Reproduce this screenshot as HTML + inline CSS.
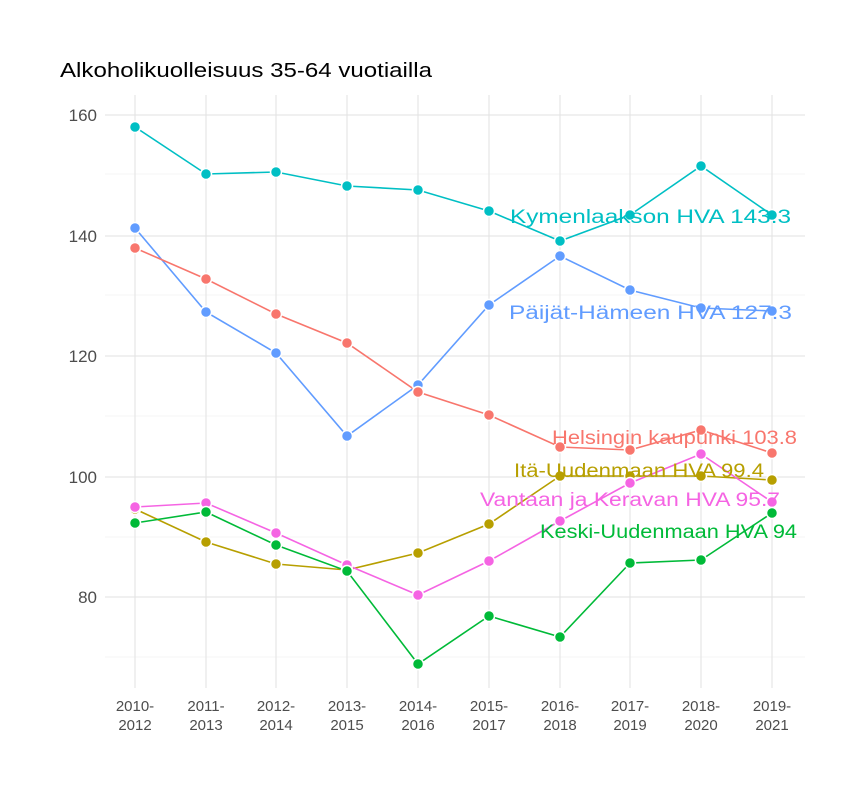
<!DOCTYPE html>
<html><head><meta charset="utf-8"><style>
body{margin:0;background:#fff}
svg{display:block;font-family:"Liberation Sans",sans-serif}
</style></head><body>
<svg width="864" height="792" viewBox="0 0 864 792" xmlns="http://www.w3.org/2000/svg">
<rect width="864" height="792" fill="#fff"/>
<text x="60" y="77" font-size="20" fill="#000" textLength="372" lengthAdjust="spacingAndGlyphs">Alkoholikuolleisuus 35-64 vuotiailla</text>
<g stroke="#f0f0f0" stroke-width="0.8">
<line x1="105" x2="805" y1="174" y2="174"/><line x1="105" x2="805" y1="295" y2="295"/>
<line x1="105" x2="805" y1="416" y2="416"/><line x1="105" x2="805" y1="537" y2="537"/>
<line x1="105" x2="805" y1="657" y2="657"/>
</g>
<g stroke="#e2e2e2" stroke-width="1">
<line x1="105" x2="805" y1="115" y2="115"/><line x1="105" x2="805" y1="236" y2="236"/>
<line x1="105" x2="805" y1="356" y2="356"/><line x1="105" x2="805" y1="477" y2="477"/>
<line x1="105" x2="805" y1="597" y2="597"/>
<line x1="135" x2="135" y1="95" y2="688"/><line x1="206" x2="206" y1="95" y2="688"/>
<line x1="276" x2="276" y1="95" y2="688"/><line x1="347" x2="347" y1="95" y2="688"/>
<line x1="418" x2="418" y1="95" y2="688"/><line x1="489" x2="489" y1="95" y2="688"/>
<line x1="560" x2="560" y1="95" y2="688"/><line x1="630" x2="630" y1="95" y2="688"/>
<line x1="701" x2="701" y1="95" y2="688"/><line x1="772" x2="772" y1="95" y2="688"/>
</g>
<g font-size="17" fill="#4d4d4d" text-anchor="end">
<text x="97" y="121">160</text><text x="97" y="242">140</text><text x="97" y="362">120</text>
<text x="97" y="483">100</text><text x="97" y="603">80</text>
</g>
<g font-size="15" fill="#4d4d4d" text-anchor="middle">
<text x="135" y="711">2010-</text><text x="135" y="730">2012</text>
<text x="206" y="711">2011-</text><text x="206" y="730">2013</text>
<text x="276" y="711">2012-</text><text x="276" y="730">2014</text>
<text x="347" y="711">2013-</text><text x="347" y="730">2015</text>
<text x="418" y="711">2014-</text><text x="418" y="730">2016</text>
<text x="489" y="711">2015-</text><text x="489" y="730">2017</text>
<text x="560" y="711">2016-</text><text x="560" y="730">2018</text>
<text x="630" y="711">2017-</text><text x="630" y="730">2019</text>
<text x="701" y="711">2018-</text><text x="701" y="730">2020</text>
<text x="772" y="711">2019-</text><text x="772" y="730">2021</text>
</g>
<g fill="none" stroke-width="1.6">
<polyline stroke="#00BFC4" points="135,127 206,174 276,172 347,186 418,190 489,211 560,241 630,215 701,166 772,215"/>
<polyline stroke="#619CFF" points="135,228 206,312 276,353 347,436 418,385 489,305 560,256 630,290 701,308 772,311"/>
<polyline stroke="#F8766D" points="135,248 206,279 276,314 347,343 418,392 489,415 560,447 630,450 701,430 772,453"/>
<polyline stroke="#B79F00" points="135,509 206,542 276,564 347,570 418,553 489,524 560,476 630,476 701,476 772,480"/>
<polyline stroke="#F564E3" points="135,507 206,503 276,533 347,565 418,595 489,561 560,521 630,483 701,454 772,502"/>
<polyline stroke="#00BA38" points="135,523 206,512 276,545 347,571 418,664 489,616 560,637 630,563 701,560 772,513"/>
</g>
<g stroke="#fff" stroke-width="1.5">
<g fill="#00BFC4"><circle cx="135" cy="127" r="5.5"/><circle cx="206" cy="174" r="5.5"/><circle cx="276" cy="172" r="5.5"/><circle cx="347" cy="186" r="5.5"/><circle cx="418" cy="190" r="5.5"/><circle cx="489" cy="211" r="5.5"/><circle cx="560" cy="241" r="5.5"/><circle cx="630" cy="215" r="5.5"/><circle cx="701" cy="166" r="5.5"/><circle cx="772" cy="215" r="5.5"/></g>
<g fill="#619CFF"><circle cx="135" cy="228" r="5.5"/><circle cx="206" cy="312" r="5.5"/><circle cx="276" cy="353" r="5.5"/><circle cx="347" cy="436" r="5.5"/><circle cx="418" cy="385" r="5.5"/><circle cx="489" cy="305" r="5.5"/><circle cx="560" cy="256" r="5.5"/><circle cx="630" cy="290" r="5.5"/><circle cx="701" cy="308" r="5.5"/><circle cx="772" cy="311" r="5.5"/></g>
<g fill="#F8766D"><circle cx="135" cy="248" r="5.5"/><circle cx="206" cy="279" r="5.5"/><circle cx="276" cy="314" r="5.5"/><circle cx="347" cy="343" r="5.5"/><circle cx="418" cy="392" r="5.5"/><circle cx="489" cy="415" r="5.5"/><circle cx="560" cy="447" r="5.5"/><circle cx="630" cy="450" r="5.5"/><circle cx="701" cy="430" r="5.5"/><circle cx="772" cy="453" r="5.5"/></g>
<g fill="#B79F00"><circle cx="135" cy="509" r="5.5"/><circle cx="206" cy="542" r="5.5"/><circle cx="276" cy="564" r="5.5"/><circle cx="347" cy="570" r="5.5"/><circle cx="418" cy="553" r="5.5"/><circle cx="489" cy="524" r="5.5"/><circle cx="560" cy="476" r="5.5"/><circle cx="630" cy="476" r="5.5"/><circle cx="701" cy="476" r="5.5"/><circle cx="772" cy="480" r="5.5"/></g>
<g fill="#F564E3"><circle cx="135" cy="507" r="5.5"/><circle cx="206" cy="503" r="5.5"/><circle cx="276" cy="533" r="5.5"/><circle cx="347" cy="565" r="5.5"/><circle cx="418" cy="595" r="5.5"/><circle cx="489" cy="561" r="5.5"/><circle cx="560" cy="521" r="5.5"/><circle cx="630" cy="483" r="5.5"/><circle cx="701" cy="454" r="5.5"/><circle cx="772" cy="502" r="5.5"/></g>
<g fill="#00BA38"><circle cx="135" cy="523" r="5.5"/><circle cx="206" cy="512" r="5.5"/><circle cx="276" cy="545" r="5.5"/><circle cx="347" cy="571" r="5.5"/><circle cx="418" cy="664" r="5.5"/><circle cx="489" cy="616" r="5.5"/><circle cx="560" cy="637" r="5.5"/><circle cx="630" cy="563" r="5.5"/><circle cx="701" cy="560" r="5.5"/><circle cx="772" cy="513" r="5.5"/></g>
</g>
<g font-size="19" lengthAdjust="spacingAndGlyphs">
<text x="510" y="223" fill="#00BFC4" textLength="281" lengthAdjust="spacingAndGlyphs">Kymenlaakson HVA 143.3</text>
<text x="509" y="319" fill="#619CFF" textLength="283" lengthAdjust="spacingAndGlyphs">Päijät-Hämeen HVA 127.3</text>
<text x="552" y="444" fill="#F8766D" textLength="245" lengthAdjust="spacingAndGlyphs">Helsingin kaupunki 103.8</text>
<text x="514" y="477" fill="#B79F00" textLength="250" lengthAdjust="spacingAndGlyphs">Itä-Uudenmaan HVA 99.4</text>
<text x="480" y="506" fill="#F564E3" textLength="300" lengthAdjust="spacingAndGlyphs">Vantaan ja Keravan HVA 95.7</text>
<text x="540" y="538" fill="#00BA38" textLength="257" lengthAdjust="spacingAndGlyphs">Keski-Uudenmaan HVA 94</text>
</g>
</svg>
</body></html>
